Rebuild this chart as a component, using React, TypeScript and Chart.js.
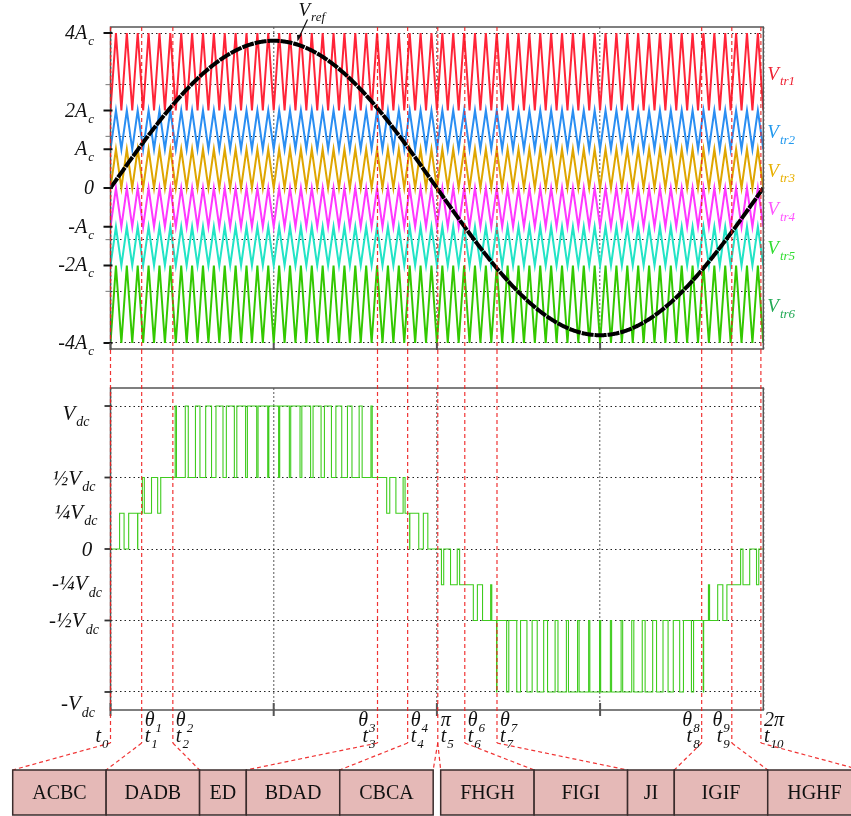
import React, { useEffect, useRef } from 'react';
import { Chart, registerables } from 'chart.js';

Chart.register(...registerables);

const TWO_PI = 2 * Math.PI;

// ---------- data: carriers (units of Ac) ----------
const carrierLabels = ['V_tr1', 'V_tr2', 'V_tr3', 'V_tr4', 'V_tr5', 'V_tr6'];
const carrierLow = [2, 1, 0, -1, -2, -4];
const carrierHigh = [4, 2, 1, 0, -1, -2];
const carrierCycles = 60;
const refAmplitude = 3.8;
// output step (in Vdc) contributed by each carrier comparison
const carrierStep = [0.5, 0.25, 0.25, 0.25, 0.25, 0.5];

// ---------- data: axes ----------
const topGridValues = [-4, -2.667, -1.333, 0, 1.333, 2.667, 4];
const topTickValues = [4, 2, 1, 0, -1, -2, -4];
const topTickLabels = ['4A_c', '2A_c', 'A_c', '0', '-A_c', '-2A_c', '-4A_c'];

const bottomGridValues = [-1, -0.5, 0, 0.5, 1];
const bottomTickLabels = ['V_dc', '½V_dc', '¼V_dc', '0', '-¼V_dc', '-½V_dc', '-V_dc'];
const bottomLabelValues = [0.95, 0.5, 0.26, 0, -0.24, -0.5, -1.08];

const xGridValues = [0, Math.PI / 2, Math.PI, 1.5 * Math.PI, 2 * Math.PI];

// ---------- data: switching instants ----------
const thetaAngles = [0, 0.30, 0.60, 2.57, 2.86, 3.15, 3.41, 3.72, 5.69, 5.98, 6.26];
const thetaLabels = ['', 'θ_1', 'θ_2', 'θ_3', 'θ_4', 'π', 'θ_6', 'θ_7', 'θ_8', 'θ_9', '2π'];
const timeLabels = ['t_0', 't_1', 't_2', 't_3', 't_4', 't_5', 't_6', 't_7', 't_8', 't_9', 't_10'];

// ---------- data: switching sequences ----------
const sequenceNames = ['ACBC', 'DADB', 'ED', 'BDAD', 'CBCA', 'FHGH', 'FIGI', 'JI', 'IGIF', 'HGHF'];
const sequenceWeights = [2, 2, 1, 2, 2, 2, 2, 1, 2, 2];
const thetaToEdges = [[0], [1], [2], [3], [4], [5, 6], [7], [8], [9], [10], [11]];

// ---------- styles ----------
const carrierColors = ['#ff2438', '#2a8ef2', '#dfa600', '#ff38ff', '#22e4c6', '#33c800'];
const carrierLabelColors = ['#ee2233', '#2299ee', '#e8b000', '#ff55ff', '#33dd33', '#22aa55'];
const SERIF = '"Liberation Serif", "Times New Roman", serif';
const RED_DASH = 'rgba(238,30,30,0.9)';

// ---------- derived series ----------
const carrierSeries = carrierLow.map((lo, i) => {
  const pts: { x: number; y: number }[] = [];
  for (let k = 0; k <= 2 * carrierCycles; k++) {
    pts.push({ x: (k * Math.PI) / carrierCycles, y: k % 2 === 0 ? lo : carrierHigh[i] });
  }
  return pts;
});

const refSeries: { x: number; y: number }[] = [];
for (let k = 0; k <= 720; k++) {
  const x = (k / 720) * TWO_PI;
  refSeries.push({ x, y: refAmplitude * Math.sin(x) });
}

function carrierAt(i: number, x: number) {
  const p = ((x * carrierCycles) / TWO_PI) % 1;
  const tri = p < 0.5 ? 2 * p : 2 - 2 * p;
  return carrierLow[i] + (carrierHigh[i] - carrierLow[i]) * tri;
}
function outputAt(x: number) {
  const r = refAmplitude * Math.sin(x);
  let v = 0;
  for (let i = 0; i < 3; i++) if (r > carrierAt(i, x)) v += carrierStep[i];
  for (let i = 3; i < 6; i++) if (r < carrierAt(i, x)) v -= carrierStep[i];
  return v;
}
const pwmSeries: { x: number; y: number }[] = [];
{
  const N = 30000;
  let prev = outputAt(0);
  pwmSeries.push({ x: 0, y: prev });
  for (let k = 1; k <= N; k++) {
    const x = (k / N) * TWO_PI;
    const v = outputAt(x);
    if (v !== prev) {
      pwmSeries.push({ x, y: v });
      prev = v;
    }
  }
  pwmSeries.push({ x: TWO_PI, y: prev });
}

// ---------- helpers ----------
function drawRich(
  ctx: CanvasRenderingContext2D,
  text: string,
  x: number,
  y: number,
  size: number,
  subSize: number,
  color: string,
  align: 'left' | 'right' | 'center',
  italic = true,
  subDrop = 0.3
) {
  const idx = text.indexOf('_');
  const main = idx >= 0 ? text.slice(0, idx) : text;
  const sub = idx >= 0 ? text.slice(idx + 1) : '';
  const st = italic ? 'italic ' : '';
  const f1 = `${st}${size}px ${SERIF}`;
  const f2 = `${st}${subSize}px ${SERIF}`;
  ctx.font = f1;
  const w1 = ctx.measureText(main).width;
  ctx.font = f2;
  const w2 = sub ? ctx.measureText(sub).width + 1 : 0;
  const w = w1 + w2;
  const x0 = align === 'left' ? x : align === 'right' ? x - w : x - w / 2;
  ctx.fillStyle = color;
  ctx.textAlign = 'left';
  ctx.textBaseline = 'alphabetic';
  ctx.font = f1;
  ctx.fillText(main, x0, y);
  if (sub) {
    ctx.font = f2;
    ctx.fillText(sub, x0 + w1 + 1, y + size * subDrop);
  }
}

function dashed(ctx: CanvasRenderingContext2D) {
  ctx.strokeStyle = RED_DASH;
  ctx.lineWidth = 1.2;
  ctx.setLineDash([4, 3]);
}

const fixScaleX = (s: any) => {
  s.ticks = xGridValues.map((v) => ({ value: v }));
};

// ---------- plugins ----------
const topDecor = {
  id: 'topDecor',
  afterDatasetsDraw(chart: any) {
    const { ctx, chartArea: a } = chart;
    const xs = chart.scales.x;
    const ys = chart.scales.y;
    ctx.save();
    // frame
    ctx.setLineDash([]);
    ctx.strokeStyle = '#555';
    ctx.lineWidth = 1.5;
    ctx.strokeRect(a.left, a.top, a.right - a.left, a.bottom - a.top);
    // red dashed markers
    dashed(ctx);
    thetaAngles.forEach((t) => {
      const x = xs.getPixelForValue(t);
      ctx.beginPath();
      ctx.moveTo(x, a.top);
      ctx.lineTo(x, a.bottom + 1);
      ctx.stroke();
    });
    ctx.setLineDash([]);
    // y ticks
    ctx.strokeStyle = '#777';
    ctx.lineWidth = 1;
    topGridValues.forEach((v) => {
      const y = ys.getPixelForValue(v);
      ctx.beginPath();
      ctx.moveTo(a.left - 5, y);
      ctx.lineTo(a.left, y);
      ctx.stroke();
    });
    ctx.strokeStyle = '#111';
    ctx.lineWidth = 2;
    topTickValues.forEach((v) => {
      const y = ys.getPixelForValue(v);
      ctx.beginPath();
      ctx.moveTo(a.left - 7, y);
      ctx.lineTo(a.left + 2, y);
      ctx.stroke();
    });
    // x ticks
    ctx.strokeStyle = '#555';
    xGridValues.slice(0, 4).forEach((v) => {
      const x = xs.getPixelForValue(v);
      ctx.beginPath();
      ctx.moveTo(x, a.bottom - 6);
      ctx.lineTo(x, a.bottom + 1);
      ctx.stroke();
    });
    // left labels
    topTickValues.forEach((v, i) => {
      const y = ys.getPixelForValue(v);
      drawRich(ctx, topTickLabels[i], 94, y + 6, 20, 13, '#111', 'right');
    });
    // right labels
    carrierLabels.forEach((lab, i) => {
      const y = ys.getPixelForValue((carrierLow[i] + carrierHigh[i]) / 2);
      drawRich(ctx, lab, a.right + 4, y + 8, 19, 13, carrierLabelColors[i], 'left');
    });
    // Vref label and arrow
    const tipX = xs.getPixelForValue(1.8);
    const tipY = ys.getPixelForValue(refAmplitude * Math.sin(1.8)) - 3;
    ctx.strokeStyle = '#111';
    ctx.fillStyle = '#111';
    ctx.lineWidth = 1.2;
    ctx.beginPath();
    ctx.moveTo(tipX + 10, tipY - 22);
    ctx.lineTo(tipX + 1, tipY - 3);
    ctx.stroke();
    ctx.beginPath();
    ctx.moveTo(tipX, tipY);
    ctx.lineTo(tipX + 4.5, tipY - 7);
    ctx.lineTo(tipX - 0.5, tipY - 6.5);
    ctx.closePath();
    ctx.fill();
    drawRich(ctx, 'V_ref', tipX + 1, tipY - 26, 19, 13, '#111', 'left');
    ctx.restore();
  },
};

const bottomDecor = {
  id: 'bottomDecor',
  afterDatasetsDraw(chart: any) {
    const { ctx, chartArea: a } = chart;
    const xs = chart.scales.x;
    const ys = chart.scales.y;
    const bendY = 393;
    const boxTop = 420;
    const boxBottom = 465;
    const boxStart = 12.7;
    const unit = 46.72;
    const gap = 7.5;
    // box edges
    const edges: number[] = [boxStart];
    let ex = boxStart;
    sequenceWeights.forEach((w, i) => {
      ex += w * unit;
      edges.push(ex);
      if (i === 4) {
        ex += gap;
        edges.push(ex);
      }
    });
    ctx.save();
    // frame
    ctx.setLineDash([]);
    ctx.strokeStyle = '#555';
    ctx.lineWidth = 1.5;
    ctx.strokeRect(a.left, a.top, a.right - a.left, a.bottom - a.top);
    // y ticks
    ctx.strokeStyle = '#333';
    ctx.lineWidth = 1.8;
    bottomGridValues.forEach((v) => {
      const y = ys.getPixelForValue(v);
      ctx.beginPath();
      ctx.moveTo(a.left - 6, y);
      ctx.lineTo(a.left + 1, y);
      ctx.stroke();
    });
    // x ticks
    ctx.strokeStyle = '#555';
    ctx.lineWidth = 2;
    xGridValues.slice(0, 4).forEach((v) => {
      const x = xs.getPixelForValue(v);
      ctx.beginPath();
      ctx.moveTo(x, a.bottom - 7);
      ctx.lineTo(x, a.bottom + 6);
      ctx.stroke();
    });
    // left labels
    const labelX = [76, 74, 76, 87, 77, 74, 78];
    bottomTickLabels.forEach((lab, i) => {
      const y = ys.getPixelForValue(bottomLabelValues[i]);
      drawRich(ctx, lab, labelX[i], y + 7, 21, 14, '#111', 'center');
    });
    // red dashed markers and connectors
    dashed(ctx);
    thetaAngles.forEach((t, i) => {
      const x = xs.getPixelForValue(t);
      ctx.beginPath();
      ctx.moveTo(x, 0);
      ctx.lineTo(x, bendY);
      ctx.stroke();
      thetaToEdges[i].forEach((ei) => {
        ctx.beginPath();
        ctx.moveTo(x, bendY);
        ctx.lineTo(edges[ei], boxTop);
        ctx.stroke();
      });
    });
    ctx.setLineDash([]);
    // theta / t labels
    const aligns: ('left' | 'right')[] = ['right', 'left', 'left', 'right', 'left', 'left', 'left', 'left', 'right', 'right', 'left'];
    thetaAngles.forEach((t, i) => {
      const x = xs.getPixelForValue(t);
      const al = aligns[i];
      const tx = al === 'left' ? x + 3 : x - 2;
      if (thetaLabels[i]) drawRich(ctx, thetaLabels[i], tx, 376, 20, 13, '#111', al, true, 0.3);
      drawRich(ctx, timeLabels[i], tx, 392, 20, 13, '#111', al);
    });
    // boxes
    sequenceNames.forEach((name, i) => {
      const l = i < 5 ? edges[i] : edges[i + 1];
      const r = i < 5 ? edges[i + 1] : edges[i + 2];
      ctx.fillStyle = '#e5b9b7';
      ctx.fillRect(l, boxTop, r - l, boxBottom - boxTop);
      ctx.strokeStyle = '#3a2c2c';
      ctx.lineWidth = 1.5;
      ctx.strokeRect(l, boxTop, r - l, boxBottom - boxTop);
      ctx.fillStyle = '#111';
      ctx.font = `20px ${SERIF}`;
      ctx.textAlign = 'center';
      ctx.textBaseline = 'middle';
      ctx.fillText(name, (l + r) / 2, (boxTop + boxBottom) / 2 + 1);
    });
    ctx.restore();
  },
};

export default function App() {
  const topRef = useRef<HTMLCanvasElement>(null);
  const botRef = useRef<HTMLCanvasElement>(null);

  useEffect(() => {
    const commonX = {
      type: 'linear' as const,
      min: 0,
      max: TWO_PI,
      afterBuildTicks: fixScaleX,
      afterFit: (s: any) => {
        s.height = 0;
      },
      ticks: { display: false },
      grid: { color: '#888', lineWidth: 1.4, drawTicks: false },
      border: { display: false, dash: [2, 2] },
    };

    const top = new Chart(topRef.current as HTMLCanvasElement, {
      type: 'line',
      data: {
        datasets: [
          {
            data: refSeries,
            borderColor: '#000',
            borderWidth: 4,
            borderDash: [12, 1],
            pointRadius: 0,
            tension: 0,
          },
          ...carrierSeries.map((pts, i) => ({
            data: pts,
            borderColor: carrierColors[i],
            borderWidth: 2,
            pointRadius: 0,
            tension: 0,
          })),
        ],
      },
      options: {
        responsive: false,
        maintainAspectRatio: false,
        animation: false,
        events: [],
        parsing: false,
        layout: { padding: { left: 110.5, right: 87.7, top: 27, bottom: 31 } },
        plugins: { legend: { display: false }, tooltip: { enabled: false } },
        scales: {
          x: commonX,
          y: {
            type: 'linear',
            min: -4.155,
            max: 4.155,
            afterBuildTicks: (s: any) => {
              s.ticks = topGridValues.map((v) => ({ value: v }));
            },
            afterFit: (s: any) => {
              s.width = 0;
            },
            ticks: { display: false },
            grid: { color: '#222', lineWidth: 1, drawTicks: false },
            border: { display: false, dash: [1.5, 3] },
          },
        },
      },
      plugins: [topDecor],
    } as any);

    const bot = new Chart(botRef.current as HTMLCanvasElement, {
      type: 'line',
      data: {
        datasets: [
          {
            data: pwmSeries,
            borderColor: '#3fcc1e',
            borderWidth: 1.1,
            pointRadius: 0,
            stepped: 'before',
          },
        ],
      },
      options: {
        responsive: false,
        maintainAspectRatio: false,
        animation: false,
        events: [],
        parsing: false,
        layout: { padding: { left: 110.5, right: 87.7, top: 38, bottom: 106 } },
        plugins: { legend: { display: false }, tooltip: { enabled: false } },
        scales: {
          x: commonX,
          y: {
            type: 'linear',
            min: -1.126,
            max: 1.126,
            afterBuildTicks: (s: any) => {
              s.ticks = bottomGridValues.map((v) => ({ value: v }));
            },
            afterFit: (s: any) => {
              s.width = 0;
            },
            ticks: { display: false },
            grid: { color: '#222', lineWidth: 1, drawTicks: false },
            border: { display: false, dash: [1.5, 3] },
          },
        },
      },
      plugins: [bottomDecor],
    } as any);

    return () => {
      top.destroy();
      bot.destroy();
    };
  }, []);

  return (
    <div style={{ position: 'absolute', left: 0, top: 0, width: 851, height: 816, background: '#fff', overflow: 'hidden' }}>
      <canvas ref={topRef} width={851} height={380} style={{ position: 'absolute', left: 0, top: 0, display: 'block' }} />
      <canvas ref={botRef} width={851} height={466} style={{ position: 'absolute', left: 0, top: 350, display: 'block' }} />
    </div>
  );
}
